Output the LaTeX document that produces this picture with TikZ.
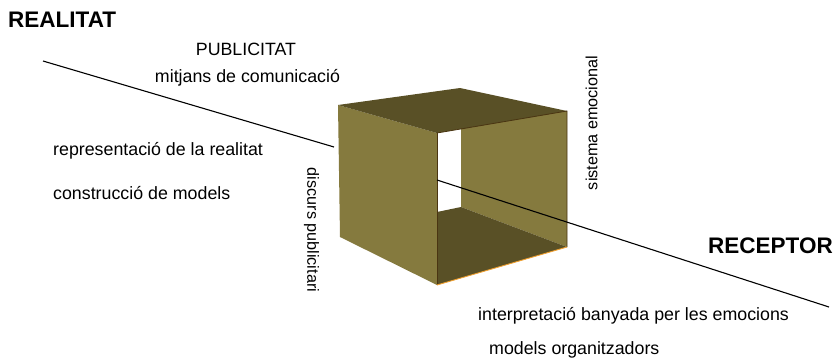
\documentclass[tikz,border=0pt]{standalone}
\usepackage{fontspec}
\setmainfont{Liberation Sans}
\definecolor{olive}{HTML}{857A3E}
\definecolor{olivedark}{HTML}{595026}
\definecolor{edgebrown}{HTML}{4A3512}
\definecolor{edgeorange}{HTML}{F0A030}
\tikzset{
  label/.style={inner sep=0pt, font=\fontsize{17.8}{20}\selectfont},
  sidelabel/.style={inner sep=0pt, font=\fontsize{16.2}{18}\selectfont},
  title/.style={inner sep=0pt, font=\fontsize{22.5}{25}\selectfont\bfseries},
  axis/.style={black, line width=1.1pt},
}
\begin{document}
\begin{tikzpicture}[x=1pt, y=-1pt]
\useasboundingbox (0,0) rectangle (836,360);

% open cube: inner back panel, inner floor, outer left wall, roof
\fill[olive] (461,122) -- (567,111) -- (567,247) -- (461,207) -- cycle;
\fill[olivedark] (437,212) -- (461,207) -- (567,247) -- (437,285) -- cycle;
\fill[olive] (338,105) -- (437,133) -- (437,285) -- (340,237) -- cycle;
\fill[olivedark] (338,105) -- (460,88) -- (567,111) -- (437,133) -- cycle;
\draw[edgebrown, line width=0.8pt] (437,133) -- (437,285);
\draw[edgebrown, line width=0.8pt] (437,133) -- (567,111) -- (567,247);
\draw[edgeorange, line width=0.9pt] (437,285) -- (567,247);

% axis from reality to receptor
\coordinate (realitatend) at (43,61);
\coordinate (cubeleft) at (334,147);
\coordinate (cubeedge) at (437,180);
\coordinate (receptorend) at (829,307);
\draw[axis] (realitatend) -- (cubeleft);
\draw[axis] (cubeedge) -- (receptorend);

% titles
\node[title, anchor=base west] (realitat) at (8,27) {REALITAT};
\node[title, anchor=base east] (receptor) at (833,253) {RECEPTOR};

% labels
\node[label, anchor=base] (publicitat) at (246,55) {PUBLICITAT};
\node[label, anchor=base] (mitjans) at (247.5,82) {mitjans de comunicació};
\node[label, anchor=base west] (representacio) at (53,155) {representació de la realitat};
\node[label, anchor=base west] (construccio) at (53,199) {construcció de models};
\node[label, anchor=base west] (interpretacio) at (478,320) {interpretació banyada per les emocions};
\node[label, anchor=base west] (organitzadors) at (489,354) {models organitzadors};
\node[sidelabel, rotate=-90] (discurs) at (311.5,230) {discurs publicitari};
\node[sidelabel, rotate=90] (sistema) at (591.5,123) {sistema emocional};
\end{tikzpicture}
\end{document}
